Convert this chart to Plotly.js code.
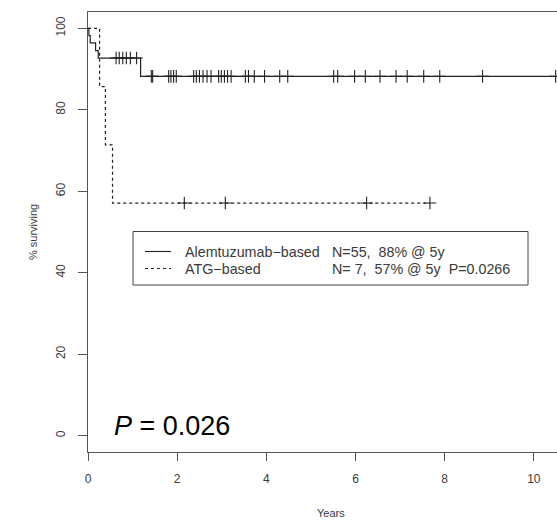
<!DOCTYPE html>
<html>
<head>
<meta charset="utf-8">
<script src="https://cdn.plot.ly/plotly-3.0.1.min.js"></script>
<style>
  html, body { margin: 0; padding: 0; background: #fff; }
  #chart { width: 557px; height: 520px; }
</style>
</head>
<body>
<div id="chart"></div>
<script>
// Kaplan–Meier overall survival by conditioning regimen (years, % surviving)

// Alemtuzumab-based arm: step times and survival after each event
const alemTimes = [0, 0.02, 0.05, 0.17, 0.23, 1.18, 10.49];
const alemSurv  = [100, 98.2, 96.4, 94.5, 92.7, 88.2, 88.2];
// censored follow-up times, with the survival level they sit on
const alemCensorEarly = [0.63, 0.70, 0.78, 0.86, 0.95, 1.09];
const alemCensorEarlySurv = 92.7;
const alemCensorLate = [1.42, 1.45, 1.81, 1.86, 1.92, 1.98, 2.37, 2.43, 2.50, 2.58, 2.67, 2.76,
                        2.93, 2.99, 3.06, 3.13, 3.21, 3.53, 3.60, 3.73, 3.96, 4.30, 4.48,
                        5.51, 5.60, 5.98, 6.22, 6.55, 6.91, 7.16, 7.53, 7.89, 8.85, 10.49];
const alemCensorLateSurv = 88.2;

// ATG-based arm
const atgTimes = [0, 0.26, 0.39, 0.55, 7.67];
const atgSurv  = [100, 85.7, 71.4, 57.1, 57.1];
const atgCensor = [2.16, 3.08, 6.25, 7.67];
const atgCensorSurv = 57.1;

// axis ticks
const xTicks = [0, 2, 4, 6, 8, 10];
const yTicks = [0, 20, 40, 60, 80, 100];

// legend / annotation text
const legendNames = ['Alemtuzumab\u2212based', 'ATG\u2212based'];
const legendStats = ['N=55,\u00a0\u00a088% @ 5y', 'N=\u00a07,\u00a0\u00a057% @ 5y\u00a0\u00a0P=0.0266'];
const pText = '<i>P</i> = 0.026';

const FONT = 'Liberation Sans, Arial, Helvetica, sans-serif';
const INK = '#222';
const TXT = '#3a3a3a';

const censorMarker = {
  symbol: 'cross-thin-open', size: 9,
  line: { width: 1.1, color: INK }, color: INK
};

const traces = [
  {
    x: alemTimes, y: alemSurv, type: 'scatter', mode: 'lines',
    line: { shape: 'hv', color: INK, width: 1.2 }, hoverinfo: 'skip'
  },
  {
    x: atgTimes, y: atgSurv, type: 'scatter', mode: 'lines',
    line: { shape: 'hv', color: INK, width: 1.2, dash: '3px,3px' }, hoverinfo: 'skip'
  },
  {
    x: alemCensorEarly, y: alemCensorEarly.map(() => alemCensorEarlySurv),
    type: 'scatter', mode: 'markers', marker: censorMarker, cliponaxis: false
  },
  {
    x: alemCensorLate, y: alemCensorLate.map(() => alemCensorLateSurv),
    type: 'scatter', mode: 'markers', marker: censorMarker, cliponaxis: false
  },
  {
    x: atgCensor, y: atgCensor.map(() => atgCensorSurv),
    type: 'scatter', mode: 'markers', marker: censorMarker, cliponaxis: false
  }
];

// plot-area geometry in pixels, used to place the hand-built legend
const L = 88, T = 12, W = 469, H = 440;
const px = v => (v - L) / W;
const py = v => 1 - (v - T) / H;

const legRows = [251.5, 268.5];

const shapes = [
  { type: 'rect', xref: 'paper', yref: 'paper',
    x0: px(133), x1: px(528), y0: py(285), y1: py(231.5),
    line: { color: '#444', width: 1 }, fillcolor: 'rgba(0,0,0,0)' },
  { type: 'line', xref: 'paper', yref: 'paper',
    x0: px(145), x1: px(171), y0: py(legRows[0]), y1: py(legRows[0]),
    line: { color: INK, width: 1.1 } },
  { type: 'line', xref: 'paper', yref: 'paper',
    x0: px(145), x1: px(171), y0: py(legRows[1]), y1: py(legRows[1]),
    line: { color: INK, width: 1.1, dash: '3px,3px' } }
];

const annotations = [];
legendNames.forEach((name, i) => {
  annotations.push({ text: name, xref: 'paper', yref: 'paper', x: px(183), y: py(legRows[i]),
    xanchor: 'left', yanchor: 'middle', showarrow: false,
    font: { family: FONT, size: 14.3, color: TXT } });
  annotations.push({ text: legendStats[i], xref: 'paper', yref: 'paper', x: px(330), y: py(legRows[i]),
    xanchor: 'left', yanchor: 'middle', showarrow: false,
    font: { family: FONT, size: 14.3, color: TXT } });
});
annotations.push({ text: pText, xref: 'paper', yref: 'paper', x: px(112), y: py(426),
  xanchor: 'left', yanchor: 'middle', showarrow: false,
  font: { family: FONT, size: 27, color: '#000' } });
annotations.push({ text: 'Years', xref: 'paper', yref: 'paper', x: px(331), y: py(513),
  xanchor: 'center', yanchor: 'middle', showarrow: false,
  font: { family: FONT, size: 11, color: TXT } });
annotations.push({ text: '% surviving', xref: 'paper', yref: 'paper', x: px(33), y: py(232),
  xanchor: 'center', yanchor: 'middle', showarrow: false, textangle: -90,
  font: { family: FONT, size: 11, color: TXT } });

const layout = {
  width: 557, height: 520,
  margin: { l: L, r: 557 - L - W, t: T, b: 520 - T - H, pad: 0 },
  paper_bgcolor: '#fff', plot_bgcolor: '#fff',
  showlegend: false,
  xaxis: {
    range: [0, 10.52], tickvals: xTicks, ticktext: xTicks.map(String),
    ticks: 'outside', ticklen: 8, tickwidth: 1, tickcolor: '#555',
    showline: true, linecolor: '#555', linewidth: 1, mirror: true,
    showgrid: false, zeroline: false, ticklabelstandoff: 8,
    tickfont: { family: FONT, size: 12, color: TXT }
  },
  yaxis: {
    range: [-4, 104], tickvals: yTicks, ticktext: yTicks.map(String),
    ticks: 'outside', ticklen: 9, tickwidth: 1, tickcolor: '#555',
    showline: true, linecolor: '#555', linewidth: 1,
    showgrid: false, zeroline: false, tickangle: -90, ticklabelstandoff: 8,
    tickfont: { family: FONT, size: 12, color: TXT }
  },
  shapes: shapes,
  annotations: annotations
};

Plotly.newPlot('chart', traces, layout, { staticPlot: true, displayModeBar: false });
</script>
</body>
</html>
